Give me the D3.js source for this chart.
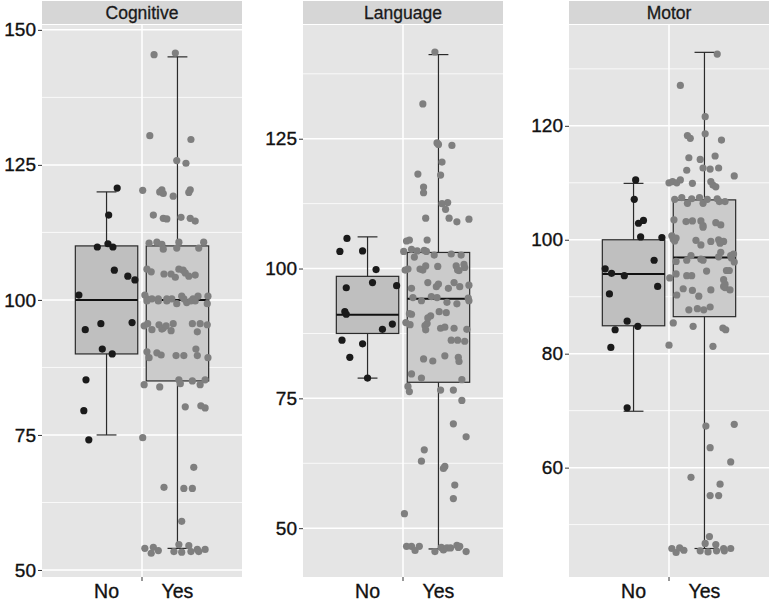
<!DOCTYPE html>
<html>
<head>
<meta charset="utf-8">
<script src="https://d3js.org/d3.v7.min.js"></script>
<style>
  body { margin: 0; background: #ffffff; }
  text { font-family: "Liberation Sans", Arial, sans-serif; }
</style>
</head>
<body>
<div id="chart"></div>
<script>
// Set svg Width and Height
var svgWidth = 771;
var svgHeight = 601;

// Facet names and groups
var facets = ["Cognitive", "Language", "Motor"];
var groups = ["No", "Yes"];

// y tick labels per facet
var cognitiveTicks = [50, 75, 100, 125, 150];
var languageTicks = [50, 75, 100, 125];
var motorTicks = [60, 80, 100, 120];
var cognitiveMinor = [62.5, 87.5, 112.5, 137.5];
var languageMinor = [62.5, 87.5, 112.5, 137.5];
var motorMinor = [50, 70, 90, 110, 130];

// y ranges shown per facet
var cognitiveDomain = [48.7, 150.9];
var languageDomain = [40.6, 146.9];
var motorDomain = [40.8, 137.7];

// box stats: [lower whisker, q1, median, q3, upper whisker]
var cognitiveNoBox = [75, 90, 100, 110, 120];
var cognitiveYesBox = [54, 85, 100, 110, 145];
var languageNoBox = [78.9, 87.5, 91.1, 98.5, 106.1];
var languageYesBox = [46, 78.1, 94.2, 103.1, 141.2];
var motorNoBox = [69.9, 84.9, 94.0, 100, 109.9];
var motorYesBox = [45.8, 86.5, 96.9, 107.0, 132.9];

// jittered points: [x position (No = 1, Yes = 2), score]
var cognitiveNo = [[1.15,120.7],[1.03,115.7],[0.87,109.8],[1.02,110.4],[1.09,109.8],[1.11,105.5],[1.30,104.4],
  [1.40,103.7],[0.61,100.9],[0.70,94.5],[0.92,95.6],[1.36,95.8],[0.94,90.9],[1.08,90.0],[0.71,85.2],[0.68,79.5],[0.75,74.1]];
var cognitiveYes = [[1.67,145.4],[1.97,145.7],[1.61,130.4],[2.19,129.7],[1.99,125.8],[2.12,125.3],
  [1.51,120.3],[1.78,120.4],[1.80,119.7],[1.75,120.0],[1.94,119.2],[2.18,120.4],[2.16,119.9],
  [1.66,115.7],[1.80,115.1],[1.85,115.0],[2.05,115.3],[2.18,115.1],[2.25,114.6],
  [1.60,110.5],[1.71,110.7],[1.78,110.3],[2.02,110.7],[2.37,110.7],[1.80,109.4],[1.99,109.6],[2.30,109.6],
  [1.57,105.7],[1.63,105.2],[1.81,104.8],[1.91,104.8],[1.97,104.2],[2.02,105.7],[2.08,105.5],[2.11,105.0],[2.16,104.4],[2.25,104.6],
  [1.54,100.9],[1.57,100.2],[1.64,100.2],[1.73,100.2],[1.85,100.2],[1.92,100.2],[2.06,100.7],[2.09,100.2],[2.22,100.2],[2.29,100.7],[2.43,100.7],
  [1.57,99.8],[1.73,99.8],[1.85,99.8],[1.99,99.3],[2.13,99.5],[2.19,99.8],[2.25,99.8],[2.42,99.3],
  [1.53,95.2],[1.58,95.6],[1.64,94.5],[1.74,95.4],[1.78,94.6],[1.80,94.8],[1.84,95.2],[1.91,94.3],[1.94,95.6],[2.21,95.6],[2.28,94.1],[2.32,95.6],[2.42,95.4],
  [1.57,90.4],[1.60,89.3],[1.71,90.2],[1.77,89.8],[1.98,89.7],[2.09,89.7],[2.26,90.9],[2.28,89.7],[2.43,89.3],
  [1.53,84.3],[1.75,83.9],[2.02,85.2],[2.04,84.5],[2.21,85.0],[2.32,84.3],[2.39,85.2],
  [2.11,80.2],[2.33,80.4],[2.39,80.0],
  [1.51,74.5],[2.23,69.0],[1.81,65.3],[2.09,65.1],[2.21,65.1],[2.06,59.0],
  [1.54,54.0],[1.63,53.1],[1.66,54.2],[1.73,53.6],[1.95,53.4],[2.02,54.7],[2.06,53.3],[2.16,54.5],[2.19,53.4],[2.28,53.8],[2.30,53.4],[2.39,53.8]];

var languageNo = [[0.71,105.8],[0.61,103.3],[0.93,103.4],[1.12,99.8],[0.70,96.3],[1.07,97.3],[1.41,96.7],[0.68,91.7],
  [0.70,91.2],[1.35,89.3],[1.21,88.3],[0.64,86.2],[0.93,85.5],[0.75,82.9],[1.00,78.9]];
var languageYes = [[1.95,141.7],[1.78,131.7],[1.98,124.2],[2.00,123.9],[2.19,123.7],[2.05,120.5],[1.71,118.2],[2.03,118.0],
  [1.79,115.7],[1.79,114.6],[2.05,112.5],[2.13,112.7],[2.10,111.4],[1.82,109.7],[2.15,109.7],[2.26,109.0],[2.43,109.5],
  [1.55,105.3],[1.59,105.5],[1.84,105.5],[1.51,103.3],[1.62,103.7],[1.70,103.4],[1.80,103.5],[1.83,103.3],[1.94,102.6],[2.18,102.8],[2.32,102.6],
  [1.57,99.9],[1.53,99.7],[1.66,102.2],[1.74,99.9],[1.78,99.7],[1.82,100.5],[1.99,100.4],[2.25,100.5],[2.29,99.6],[2.37,100.2],[2.36,100.8],[2.27,99.7],
  [1.62,96.2],[1.85,97.3],[1.97,96.5],[2.00,97.0],[2.14,96.2],[2.22,97.3],[2.30,96.5],[2.43,96.8],
  [1.64,94.4],[1.90,94.6],[1.98,94.4],[2.42,94.3],
  [1.76,93.8],[2.12,93.5],[2.26,93.2],[2.43,93.8],[1.62,91.2],[1.59,91.3],[1.54,89.6],[1.60,89.2],[1.81,89.0],[1.84,89.4],
  [1.89,90.9],[1.85,90.5],[2.01,91.7],[2.11,91.5],[1.82,88.2],[2.03,88.5],[2.09,88.7],[2.22,88.5],[2.40,88.3],
  [2.18,86.2],[2.27,86.2],[2.37,86.0],[1.79,82.6],[1.92,82.2],[2.09,83.2],[2.28,82.9],[2.29,82.1],[1.62,79.7],[1.76,78.9],[2.33,78.6],
  [1.57,77.3],[1.59,76.3],[2.03,76.6],[2.21,76.6],[2.33,74.6],[2.21,70.1],[2.39,67.6],[1.80,65.1],[1.76,62.9],[2.09,61.9],
  [2.07,61.5],[2.23,58.3],[2.21,55.7],[1.52,52.8],
  [1.55,46.5],[1.62,46.5],[1.67,45.7],[1.73,46.5],[1.95,45.5],[2.04,46.3],[2.07,45.8],[2.12,46.2],[2.17,46.2],[2.26,46.7],[2.28,46.3],[2.30,46.5],[2.39,45.5]];

var motorNo = [[1.03,110.5],[1.01,107.1],[1.07,102.9],[1.14,103.4],[1.10,100.5],[1.40,100.4],[1.29,96.4],[0.60,94.9],
  [0.69,94.1],[0.87,93.7],[1.34,91.8],[0.66,90.5],[0.91,85.7],[0.74,84.2],[1.06,84.8],[0.68,81.1],[0.91,70.5]];
var motorYes = [[2.18,132.6],[1.66,127.1],[2.01,121.6],[2.01,118.6],[1.76,118.3],[1.80,117.8],[2.24,117.5],[1.78,114.4],
  [1.94,114.1],[2.15,114.7],[1.98,112.6],[2.08,112.4],[2.20,112.6],[1.75,112.2],[2.42,111.2],[1.50,110.0],[1.55,110.2],
  [1.61,110.0],[1.66,110.5],[1.83,109.9],[2.09,110.2],[2.12,109.6],[2.16,109.3],
  [1.58,107.1],[1.68,107.4],[1.76,106.4],[1.82,107.2],[1.93,107.4],[1.98,106.4],[2.04,107.1],[2.18,107.2],[2.21,106.7],[2.29,106.7],
  [1.57,103.5],[1.74,103.2],[1.83,103.3],[1.95,103.3],[1.98,102.5],[1.98,102.2],[2.16,103.0],[2.23,102.6],
  [1.54,100.7],[1.56,100.1],[1.58,99.8],[1.60,100.3],[1.88,99.9],[1.95,99.1],[2.09,99.7],[2.20,100.0],[2.27,99.7],[2.22,99.4],[2.41,97.5],
  [1.81,97.2],[1.75,96.4],[1.60,96.2],[1.95,96.6],[1.98,96.4],[2.20,97.0],[2.23,97.8],[2.37,97.2],[2.38,96.8],[2.42,96.1],
  [1.51,93.3],[1.60,94.0],[1.75,93.7],[1.82,93.7],[2.03,94.5],[2.31,94.6],[2.35,94.6],[2.27,93.0],
  [2.27,91.8],[2.29,91.6],[2.36,91.2],[1.70,91.4],[1.83,91.1],[2.09,91.2],[1.61,90.3],[1.92,90.1],[2.29,92.2],
  [1.78,87.7],[1.90,87.9],[1.99,87.7],[2.08,88.2],[1.56,85.4],[1.84,84.8],[2.26,84.5],[2.30,84.2],[1.50,81.5],[2.12,81.3],
  [2.02,67.3],[2.42,67.6],[2.08,63.5],[2.37,61.0],[1.81,58.3],[2.22,57.1],[2.08,55.1],[2.20,55.1],
  [1.54,45.8],[1.60,45.1],[1.65,45.9],[1.71,45.5],[1.94,45.4],[2.01,46.7],[2.07,47.9],[2.05,45.2],[2.16,46.5],[2.17,45.4],
  [2.27,45.8],[2.28,45.4],[2.37,45.8]];

// Build panel table from the arrays above
var panels = [
  {name: facets[0], left: 42, domain: cognitiveDomain, ticks: cognitiveTicks, minor: cognitiveMinor,
    boxes: [cognitiveNoBox, cognitiveYesBox], points: [cognitiveNo, cognitiveYes]},
  {name: facets[1], left: 303, domain: languageDomain, ticks: languageTicks, minor: languageMinor,
    boxes: [languageNoBox, languageYesBox], points: [languageNo, languageYes]},
  {name: facets[2], left: 569, domain: motorDomain, ticks: motorTicks, minor: motorMinor,
    boxes: [motorNoBox, motorYesBox], points: [motorNo, motorYes]}
];

var panelWidth = 200;
var panelTop = 25;
var panelBottom = 577;
var boxFill = ["#bfbfbf", "#cbcbcb"];
var pointFill = ["#1a1a1a", "#7f7f7f"];

var svg = d3.select("#chart")
  .append("svg")
  .attr("width", svgWidth)
  .attr("height", svgHeight);

// x scale shared by all panels (No = 1, Yes = 2)
var xScale = d3.scaleLinear()
  .domain([0.09, 2.91])
  .range([0, panelWidth]);

panels.forEach(function(p) {
  var g = svg.append("g")
    .attr("transform", `translate(${p.left}, 0)`);

  var yScale = d3.scaleLinear()
    .domain(p.domain)
    .range([panelBottom, panelTop]);

  // Step 1: panel background and strip
  g.append("rect")
    .attr("x", 0).attr("y", panelTop)
    .attr("width", panelWidth).attr("height", panelBottom - panelTop)
    .attr("fill", "#e5e5e5");

  g.append("rect")
    .attr("x", 0).attr("y", 1)
    .attr("width", panelWidth).attr("height", 23)
    .attr("fill", "#d6d6d6");

  g.append("text")
    .attr("x", panelWidth / 2)
    .attr("y", 19)
    .attr("text-anchor", "middle")
    .style("font-size", "17.5px")
    .style("fill", "#1a1a1a")
    .style("stroke", "#1a1a1a")
    .style("stroke-width", 0.3)
    .text(p.name);

  // Step 2: gridlines
  g.selectAll(".minor")
    .data(p.minor)
    .enter()
    .append("line")
    .attr("x1", 0).attr("x2", panelWidth)
    .attr("y1", d => yScale(d)).attr("y2", d => yScale(d))
    .attr("stroke", "#ffffff")
    .attr("stroke-width", 0.8);

  g.selectAll(".major")
    .data(p.ticks)
    .enter()
    .append("line")
    .attr("x1", 0).attr("x2", panelWidth)
    .attr("y1", d => yScale(d)).attr("y2", d => yScale(d))
    .attr("stroke", "#ffffff")
    .attr("stroke-width", 1.5);

  g.append("line")
    .attr("x1", xScale(1.5)).attr("x2", xScale(1.5))
    .attr("y1", panelTop).attr("y2", panelBottom)
    .attr("stroke", "#ffffff")
    .attr("stroke-width", 1.5);

  // Step 3: y axis
  var leftAxis = d3.axisLeft(yScale)
    .tickValues(p.ticks)
    .tickSize(4)
    .tickPadding(2);

  var yAxis = g.append("g").call(leftAxis);
  yAxis.select(".domain").remove();
  yAxis.selectAll("line").attr("stroke", "#333333");
  yAxis.selectAll("text")
    .style("font-size", "19px")
    .style("font-family", "'Liberation Sans', Arial, sans-serif")
    .style("fill", "#111111")
    .style("stroke", "#111111")
    .style("stroke-width", 0.35);

  // x axis: one tick between the groups, labels under the boxes
  g.append("line")
    .attr("x1", xScale(1.5)).attr("x2", xScale(1.5))
    .attr("y1", panelBottom).attr("y2", panelBottom + 4)
    .attr("stroke", "#333333");

  g.selectAll(".xlab")
    .data(groups)
    .enter()
    .append("text")
    .attr("x", (d, i) => xScale(i + 1))
    .attr("y", 598)
    .attr("text-anchor", "middle")
    .style("font-size", "19.5px")
    .style("fill", "#111111")
    .style("stroke", "#111111")
    .style("stroke-width", 0.35)
    .text(d => d);

  // Step 4: boxplots
  p.boxes.forEach(function(b, i) {
    var cx = i + 1;
    g.append("line")
      .attr("x1", xScale(cx)).attr("x2", xScale(cx))
      .attr("y1", yScale(b[0])).attr("y2", yScale(b[4]))
      .attr("stroke", "#2a2a2a").attr("stroke-width", 1.2);
    [b[0], b[4]].forEach(function(v) {
      g.append("line")
        .attr("x1", xScale(cx - 0.14)).attr("x2", xScale(cx + 0.14))
        .attr("y1", yScale(v)).attr("y2", yScale(v))
        .attr("stroke", "#2a2a2a").attr("stroke-width", 1.2);
    });
    g.append("rect")
      .attr("x", xScale(cx - 0.44))
      .attr("y", yScale(b[3]))
      .attr("width", xScale(cx + 0.44) - xScale(cx - 0.44))
      .attr("height", yScale(b[1]) - yScale(b[3]))
      .attr("fill", boxFill[i])
      .attr("stroke", "#2a2a2a")
      .attr("stroke-width", 1.2);
    g.append("line")
      .attr("x1", xScale(cx - 0.44)).attr("x2", xScale(cx + 0.44))
      .attr("y1", yScale(b[2])).attr("y2", yScale(b[2]))
      .attr("stroke", "#111111").attr("stroke-width", 2);
  });

  // Step 5: jittered points
  p.points.forEach(function(pts, i) {
    g.selectAll(".pt" + i)
      .data(pts)
      .enter()
      .append("circle")
      .attr("cx", d => xScale(d[0]))
      .attr("cy", d => yScale(d[1]))
      .attr("r", 3.6)
      .attr("fill", pointFill[i]);
  });
});
</script>
</body>
</html>
